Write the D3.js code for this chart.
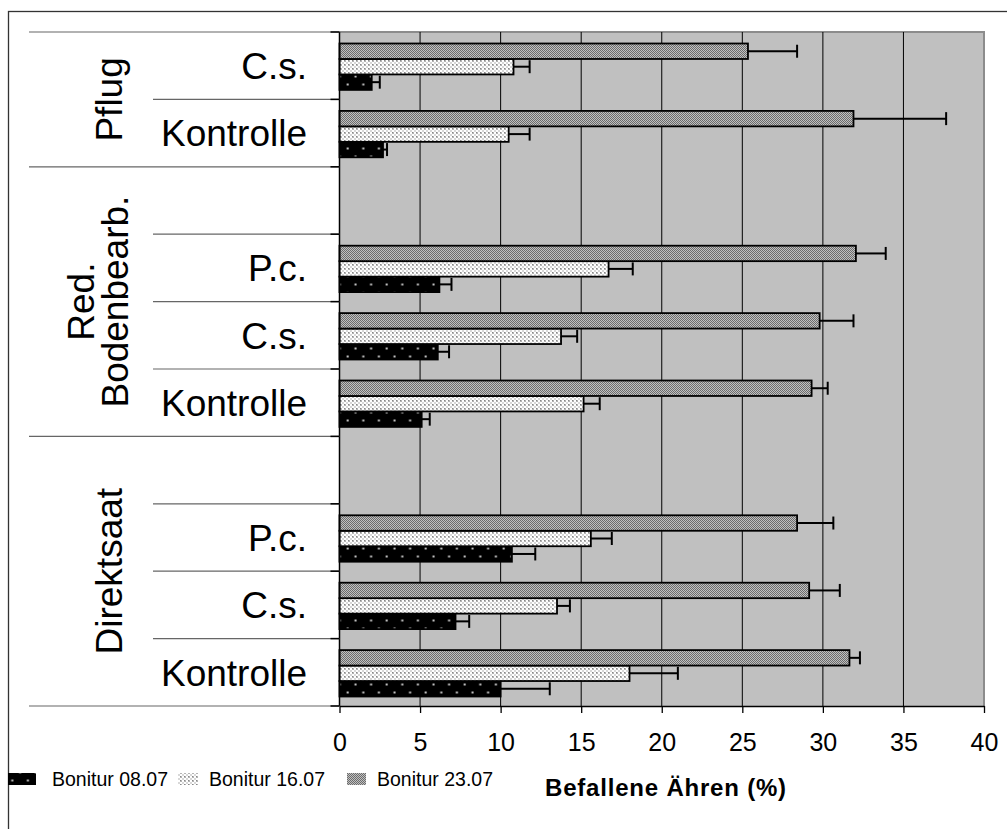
<!DOCTYPE html>
<html>
<head>
<meta charset="utf-8">
<script src="https://cdn.jsdelivr.net/npm/d3@7"></script>
<style>
  body { margin: 0; background: #fff; }
  svg { display: block; font-family: "Liberation Sans", Arial, sans-serif; }
</style>
</head>
<body>
<svg id="chart" width="1007" height="829"></svg>
<script>
// categories (top to bottom) and their groups
const rowLabels = ["C.s.", "Kontrolle", "", "P.c.", "C.s.", "Kontrolle", "", "P.c.", "C.s.", "Kontrolle"];
const groupNames = [["Pflug"], ["Red.", "Bodenbearb."], ["Direktsaat"]];
const groupStart = [0, 2, 6];
const groupEnd = [2, 6, 10];

const series = ["Bonitur 08.07", "Bonitur 16.07", "Bonitur 23.07"];

// mean values (%) and error (+) per category
const b0807 = [2.0, 2.7, null, 6.2, 6.1, 5.1, null, 10.7, 7.2, 10.0];
const e0807 = [0.5, 0.25, null, 0.75, 0.7, 0.5, null, 1.45, 0.85, 3.05];
const b1607 = [10.8, 10.5, null, 16.7, 13.75, 15.15, null, 15.6, 13.5, 18.0];
const e1607 = [1.0, 1.3, null, 1.5, 1.0, 1.0, null, 1.3, 0.8, 3.0];
const b2307 = [25.35, 31.9, null, 32.05, 29.8, 29.3, null, 28.4, 29.15, 31.65];
const e2307 = [3.05, 5.75, null, 1.85, 2.1, 1.0, null, 2.25, 1.9, 0.65];

const xTicks = [0, 5, 10, 15, 20, 25, 30, 35, 40];
const xTitle = "Befallene Ähren (%)";

const values = { "Bonitur 08.07": b0807, "Bonitur 16.07": b1607, "Bonitur 23.07": b2307 };
const errors = { "Bonitur 08.07": e0807, "Bonitur 16.07": e1607, "Bonitur 23.07": e2307 };

const svg = d3.select("#chart");
const plot = { left: 339.5, right: 984, top: 32, bottom: 706 };

const x = d3.scaleLinear().domain([0, 40]).range([plot.left, plot.right]);
const y = d3.scaleBand().domain(d3.range(rowLabels.length)).range([plot.top, plot.bottom]);
const sub = d3.scaleBand().domain(["Bonitur 23.07", "Bonitur 16.07", "Bonitur 08.07"])
  .range([11.5, 11.5 + 46.4]);

// patterns
const defs = svg.append("defs");
const p1 = defs.append("pattern").attr("id", "pat0807").attr("patternUnits", "userSpaceOnUse")
  .attr("width", 15.6).attr("height", 16);
p1.append("rect").attr("width", 15.6).attr("height", 16).attr("fill", "#000");
p1.append("rect").attr("x", 3.5).attr("y", 3.5).attr("width", 2).attr("height", 2).attr("fill", "#c8c8c8");
p1.append("rect").attr("x", 11.3).attr("y", 11.5).attr("width", 2).attr("height", 2).attr("fill", "#c8c8c8");

const p2 = defs.append("pattern").attr("id", "pat1607").attr("patternUnits", "userSpaceOnUse")
  .attr("width", 4).attr("height", 4);
p2.append("rect").attr("width", 4).attr("height", 4).attr("fill", "#fff");
p2.append("rect").attr("x", 0).attr("y", 0).attr("width", 2).attr("height", 2).attr("fill", "#b4b4b4");
p2.append("rect").attr("x", 2).attr("y", 2).attr("width", 2).attr("height", 2).attr("fill", "#d8d8d8");
p2.append("rect").attr("x", 0).attr("y", 0).attr("width", 1).attr("height", 1).attr("fill", "#888");

const p3 = defs.append("pattern").attr("id", "pat2307").attr("patternUnits", "userSpaceOnUse")
  .attr("width", 2).attr("height", 2);
p3.append("rect").attr("width", 2).attr("height", 2).attr("fill", "#c0c0c0");
p3.append("rect").attr("width", 1).attr("height", 1).attr("fill", "#6c6c6c");
p3.append("rect").attr("x", 1).attr("y", 1).attr("width", 1).attr("height", 1).attr("fill", "#6c6c6c");

const fillOf = { "Bonitur 08.07": "url(#pat0807)", "Bonitur 16.07": "url(#pat1607)", "Bonitur 23.07": "url(#pat2307)" };

// outer frame
svg.append("rect").attr("x", 8.5).attr("y", 11.5).attr("width", 1100).attr("height", 900)
  .attr("fill", "none").attr("stroke", "#333").attr("stroke-width", 1.3);

// plot background
svg.append("rect").attr("x", plot.left).attr("y", plot.top)
  .attr("width", plot.right - plot.left).attr("height", plot.bottom - plot.top)
  .attr("fill", "#c0c0c0");
svg.append("path")
  .attr("d", `M${plot.left},${plot.top}H${plot.right}V${plot.bottom}`)
  .attr("fill", "none").attr("stroke", "#8c8c8c").attr("stroke-width", 2);

// gridlines
svg.append("g").selectAll("line").data(xTicks.filter(d => d > 0 && d < 40)).join("line")
  .attr("x1", d => x(d)).attr("x2", d => x(d))
  .attr("y1", plot.top).attr("y2", plot.bottom)
  .attr("stroke", "#000").attr("stroke-width", 1);

// bars
const bars = [];
rowLabels.forEach((lab, i) => {
  series.forEach(s => {
    if (values[s][i] != null) bars.push({ i, s, v: values[s][i], e: errors[s][i] });
  });
});

const barG = svg.append("g");
barG.selectAll("rect").data(bars).join("rect")
  .attr("x", x(0))
  .attr("y", d => y(d.i) + sub(d.s))
  .attr("width", d => x(d.v) - x(0))
  .attr("height", sub.bandwidth())
  .attr("fill", d => fillOf[d.s])
  .attr("stroke", "#000").attr("stroke-width", 1.8);

// error bars
const errG = svg.append("g").attr("stroke", "#000").attr("stroke-width", 2);
errG.selectAll("line.h").data(bars).join("line").attr("class", "h")
  .attr("x1", d => x(d.v)).attr("x2", d => x(d.v + d.e))
  .attr("y1", d => y(d.i) + sub(d.s) + sub.bandwidth() / 2)
  .attr("y2", d => y(d.i) + sub(d.s) + sub.bandwidth() / 2);
errG.selectAll("line.c").data(bars).join("line").attr("class", "c")
  .attr("x1", d => x(d.v + d.e)).attr("x2", d => x(d.v + d.e))
  .attr("y1", d => y(d.i) + sub(d.s) + sub.bandwidth() / 2 - 6.5)
  .attr("y2", d => y(d.i) + sub(d.s) + sub.bandwidth() / 2 + 6.5);

// x axis
const xAxis = svg.append("g").attr("transform", `translate(0,${plot.bottom})`)
  .call(d3.axisBottom(x).tickValues(xTicks).tickSize(7).tickSizeOuter(0).tickPadding(20));
xAxis.select(".domain").attr("stroke", "#000").attr("stroke-width", 1.5);
xAxis.selectAll(".tick line").attr("stroke", "#000").attr("stroke-width", 1.3);
xAxis.selectAll(".tick text").attr("font-size", 25).attr("font-family", "Liberation Sans, Arial")
  .attr("fill", "#000");

// y axis line
svg.append("line").attr("x1", plot.left).attr("x2", plot.left)
  .attr("y1", plot.top).attr("y2", plot.bottom).attr("stroke", "#000").attr("stroke-width", 1.5);

// category separators in the label area
const bounds = d3.range(rowLabels.length + 1);
const isGroupEdge = k => groupStart.includes(k) || k === rowLabels.length;
const yEdge = k => k < rowLabels.length ? y(k) : plot.bottom;
svg.append("g").selectAll("line").data(bounds).join("line")
  .attr("x1", k => isGroupEdge(k) ? 29 : 153).attr("x2", plot.left)
  .attr("y1", k => yEdge(k)).attr("y2", k => yEdge(k))
  .attr("stroke", "#666").attr("stroke-width", 1.2);
svg.append("g").selectAll("line").data(bounds).join("line")
  .attr("x1", plot.left - 9).attr("x2", plot.left)
  .attr("y1", k => yEdge(k)).attr("y2", k => yEdge(k))
  .attr("stroke", "#000").attr("stroke-width", 1.5);

// category labels
svg.append("g").selectAll("text").data(rowLabels).join("text")
  .attr("x", 307).attr("y", (d, i) => y(i) + y.bandwidth() / 2)
  .attr("dy", "0.36em").attr("text-anchor", "end")
  .attr("font-size", 37).attr("fill", "#000")
  .text(d => d);

// group labels (rotated)
groupNames.forEach((lines, g) => {
  const cy = (yEdge(groupStart[g]) + yEdge(groupEnd[g])) / 2;
  const cx = lines.length > 1 ? 98 : 109;
  const lh = 34;
  const t = svg.append("text")
    .attr("transform", `translate(${cx},${cy}) rotate(-90)`)
    .attr("text-anchor", "middle").attr("font-size", 37).attr("fill", "#000");
  lines.forEach((ln, k) => {
    t.append("tspan").attr("x", 0)
      .attr("y", (k - (lines.length - 1) / 2) * lh)
      .attr("dy", "0.36em").text(ln);
  });
});

// legend
const legX = [8, 178, 347];
const legW = [28, 20, 19];
const legText = [52, 209, 377];
const leg = svg.append("g");
series.forEach((s, i) => {
  leg.append("rect").attr("x", legX[i]).attr("y", 773).attr("width", legW[i]).attr("height", 12)
    .attr("fill", fillOf[s]);
  leg.append("text").attr("x", legText[i]).attr("y", 786)
    .attr("font-size", 19.5).attr("fill", "#000").text(s);
});

// axis title
svg.append("text").attr("x", 545).attr("y", 796)
  .attr("font-size", 24).attr("font-weight", "bold").attr("letter-spacing", 0.8)
  .attr("fill", "#000").text(xTitle);
</script>
</body>
</html>
